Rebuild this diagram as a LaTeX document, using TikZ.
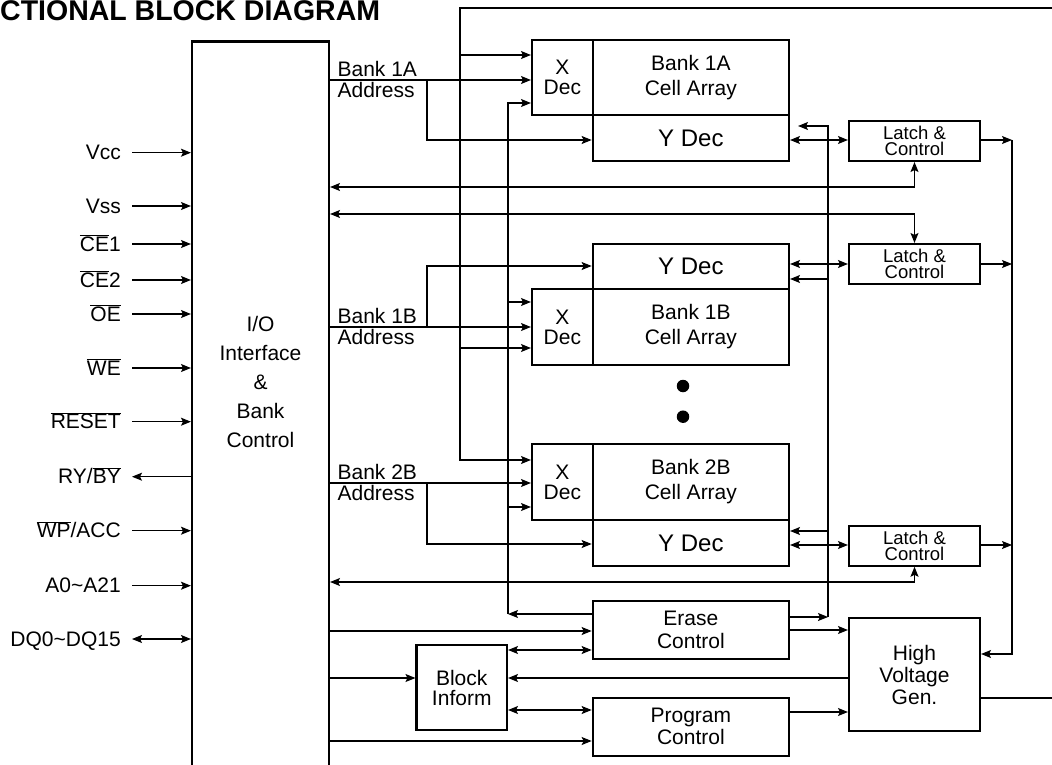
\documentclass[tikz,border=0pt]{standalone}
\usepackage{fontspec}
\setmainfont{Liberation Sans}
\usetikzlibrary{arrows.meta}
\newcommand{\olin}[1]{\ensuremath{\overline{\hbox{#1}}}}

\begin{document}
\begin{tikzpicture}[x=1pt, y=-1pt,
    >={Stealth[length=10pt, width=8pt, inset=2pt]},
    box/.style={draw, line width=2.1pt, inner sep=0pt, align=center, font=\fontsize{21}{25}\selectfont},
    decbox/.style={box, font=\fontsize{21}{20}\selectfont},
    ydecbox/.style={box, font=\fontsize{24}{26}\selectfont},
    latchbox/.style={box, font=\fontsize{18.5}{16.5}\selectfont},
    pinlabel/.style={anchor=east, inner xsep=11pt, inner ysep=0pt, text height=14.5pt, text depth=0pt, font=\fontsize{21}{25}\selectfont},
    addr/.style={inner sep=0pt, xshift=7pt, font=\fontsize{21}{20}\selectfont},
    wire/.style={line width=1.1pt}]
    \useasboundingbox (0,0) rectangle (1052,765);
    \clip (0,0) rectangle (1052,765);

    % Title
    \node[anchor=base west, inner sep=0pt, font=\bfseries\fontsize{28.5}{30}\selectfont] (title) at (0,21) {CTIONAL BLOCK DIAGRAM};

    % I/O interface
    \node[box, minimum width=137pt, minimum height=760pt, anchor=north] (io) at (260.5,40.5) {};
    \node[align=center, font=\fontsize{21}{29}\selectfont] (iotext) at (260.5,382) {I/O\\Interface\\\&\\Bank\\Control};

    % Pins
    \foreach \nm/\yy/\txt in {vcc/152.7/Vcc, vss/206/Vss, ce1/244/\olin{CE}1, ce2/280/\olin{CE}2, oe/314/\olin{OE}, we/368/\olin{WE}, rst/421.7/\olin{RESET}, addr/585.7/A0\textasciitilde A21}
    {
        \node[pinlabel] (\nm) at (132,\yy) {\txt};
        \draw[wire,->] (\nm) -- (io.west |- \nm);
    }
    \node[pinlabel] (ryby) at (132,476.7) {RY/\olin{BY}};
    \draw[wire,<-] (ryby) -- (io.west |- ryby);
    \node[pinlabel] (wp) at (132,530.7) {\olin{WP}/ACC};
    \draw[wire,->] (wp) -- (io.west |- wp);
    \node[pinlabel] (dq) at (132,639) {DQ0\textasciitilde DQ15};
    \draw[wire,<->] (dq) -- (io.west |- dq);

    % Bank 1A
    \node[decbox, minimum width=60.7pt, minimum height=75pt] (xd1a) at (562.35,77.5) {X\\Dec};
    \node[box, minimum width=196.3pt, minimum height=75pt] (c1a) at (690.85,77.5) {Bank 1A\\Cell Array};
    \node[ydecbox, minimum width=196.3pt, minimum height=46pt] (yd1a) at (690.85,138) {Y Dec};

    % Bank 1B
    \node[ydecbox, minimum width=196.3pt, minimum height=45pt] (yd1b) at (690.85,266.5) {Y Dec};
    \node[decbox, minimum width=60.7pt, minimum height=76pt] (xd1b) at (562.35,327) {X\\Dec};
    \node[box, minimum width=196.3pt, minimum height=76pt] (c1b) at (690.85,327) {Bank 1B\\Cell Array};

    % more banks
    \node[circle, fill, inner sep=0pt, minimum size=12.5pt] (dot1) at (683,386) {};
    \node[circle, fill, inner sep=0pt, minimum size=12.5pt] (dot2) at (683,416.7) {};

    % Bank 2B
    \node[decbox, minimum width=60.7pt, minimum height=76pt] (xd2b) at (562.35,482) {X\\Dec};
    \node[box, minimum width=196.3pt, minimum height=76pt] (c2b) at (690.85,482) {Bank 2B\\Cell Array};
    \node[ydecbox, minimum width=196.3pt, minimum height=46pt] (yd2b) at (690.85,543) {Y Dec};

    % Latches
    \node[latchbox, minimum width=131pt, minimum height=40.3pt] (l1a) at (914.5,140.85) {Latch \&\\Control};
    \node[latchbox, minimum width=131pt, minimum height=40pt] (l1b) at (914.5,264) {Latch \&\\Control};
    \node[latchbox, minimum width=131pt, minimum height=40pt] (l2b) at (914.5,545.7) {Latch \&\\Control};

    % Control blocks
    \node[box, font=\fontsize{21}{23}\selectfont, minimum width=196.3pt, minimum height=58.3pt] (erase) at (690.85,629.85) {Erase\\Control};
    \node[box, font=\fontsize{21}{20}\selectfont, minimum width=90.5pt, minimum height=85pt] (blk) at (461.75,687.5) {Block\\Inform};
    \node[box, font=\fontsize{21}{22}\selectfont, minimum width=196.3pt, minimum height=58.3pt] (prog) at (690.85,726.85) {Program\\Control};
    \node[box, font=\fontsize{21}{22}\selectfont, minimum width=131pt, minimum height=113pt] (hvg) at (914.5,674.5) {High\\Voltage\\Gen.};

    % Bank addresses
    \draw[wire,->] (io.east |- 0,80) node[addr, anchor=base west, yshift=3.5pt] {Bank 1A} node[addr, anchor=north west, yshift=-1.5pt] {Address} -- (xd1a.west |- 0,80);
    \coordinate (j1a) at (427,80);
    \draw[wire,->] (j1a) |- (yd1a.west |- 0,140);
    \draw[wire,->] (io.east |- 0,327) node[addr, anchor=base west, yshift=3.5pt] {Bank 1B} node[addr, anchor=north west, yshift=-1.5pt] {Address} -- (xd1b.west |- 0,327);
    \coordinate (j1b) at (427,327);
    \draw[wire,->] (j1b) |- (yd1b.west |- 0,266);
    \draw[wire,->] (io.east |- 0,483) node[addr, anchor=base west, yshift=3.5pt] {Bank 2B} node[addr, anchor=north west, yshift=-1.5pt] {Address} -- (xd2b.west |- 0,483);
    \coordinate (j2b) at (427,483);
    \draw[wire,->] (j2b) |- (yd2b.west |- 0,544);

    % Top bus from high voltage
    \coordinate (topr) at (1052,8);
    \coordinate (busx) at (460,8);
    \draw[wire,->] (topr) -- (busx) |- (xd2b.west |- 0,460);
    \draw[wire,->] (busx |- 0,55) -- (xd1a.west |- 0,55);
    \draw[wire,->] (busx |- 0,348) -- (xd1b.west |- 0,348);

    % Erase bus, X side
    \coordinate (ebl) at (508,614);
    \draw[wire,->] (erase.west |- ebl) -- (ebl);
    \draw[wire,->] (ebl) |- (xd1a.west |- 0,103);
    \draw[wire,->] (ebl |- 0,302) -- (xd1b.west |- 0,302);
    \draw[wire,->] (ebl |- 0,507) -- (xd2b.west |- 0,507);

    % Erase bus, Y side
    \coordinate (ebr) at (828,617);
    \draw[wire,->] (erase.east |- ebr) -- (ebr);
    \draw[wire,->, shorten >=8pt] (ebr) |- (yd1a.east |- 0,126);
    \draw[wire,->] (ebr |- 0,279) -- (yd1b.east |- 0,279);
    \draw[wire,->] (ebr |- 0,531) -- (yd2b.east |- 0,531);

    % Y Dec <-> Latch
    \draw[wire,<->] (yd1a.east |- 0,140) -- (l1a.west |- 0,140);
    \draw[wire,<->] (yd1b.east |- 0,264) -- (l1b.west |- 0,264);
    \draw[wire,<->] (yd2b.east |- 0,545) -- (l2b.west |- 0,545);

    % Latch outputs
    \coordinate (rbus) at (1012,654);
    \draw[wire,->] (l1a.east |- 0,140) -- (rbus |- 0,140);
    \draw[wire,->] (l1b.east |- 0,264) -- (rbus |- 0,264);
    \draw[wire,->] (l2b.east |- 0,545) -- (rbus |- 0,545);
    \draw[wire,->] (rbus |- 0,140) -- (rbus) -- (hvg.east |- rbus);

    % Latch <-> I/O
    \draw[wire,<->] (io.east |- 0,187) -| (l1a.south);
    \draw[wire,<->] (io.east |- 0,214) -| (l1b.north);
    \draw[wire,<->] (io.east |- 0,582) -| (l2b.south);

    % Erase, block and program
    \draw[wire,->] (erase.east |- 0,630) -- (hvg.west |- 0,630);
    \draw[wire,->] (io.east |- 0,631) -- (erase.west |- 0,631);
    \draw[wire,<->] (blk.east |- 0,650) -- (erase.west |- 0,650);
    \draw[wire,->] (io.east |- 0,678) -- (blk.west |- 0,678);
    \draw[wire,->] (hvg.west |- 0,678) -- (blk.east |- 0,678);
    \draw[wire,<->] (blk.east |- 0,710) -- (prog.west |- 0,710);
    \draw[wire,->] (prog.east |- 0,712) -- (hvg.west |- 0,712);
    \draw[wire,->] (io.east |- 0,741) -- (prog.west |- 0,741);
    \coordinate (outr) at (1052,698);
    \draw[wire] (hvg.east |- outr) -- (outr);
\end{tikzpicture}
\end{document}
